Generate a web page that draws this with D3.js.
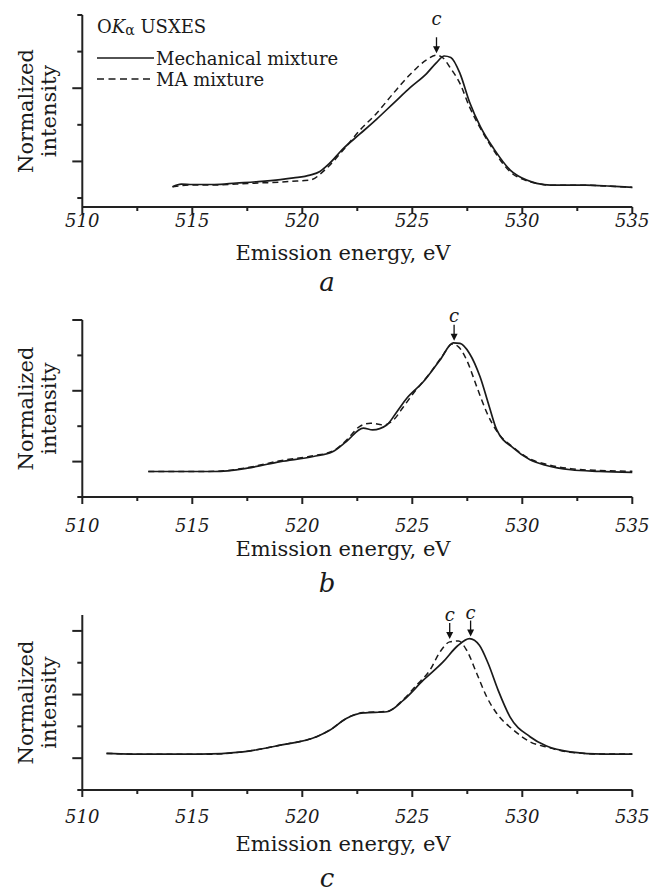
<!DOCTYPE html>
<html lang="en">
	<head>
		<meta charset="utf-8">
		<title>O K-alpha USXES</title>
		<script type="text/javascript" src="https://d3js.org/d3.v7.min.js"></script>
		<style type="text/css">
			body { margin: 0; background: #fff; }
			text { font-family: "DejaVu Serif", serif; fill: #1a1a1a; }
		</style>
	</head>
	<body>
		<script type="text/javascript">

			//Width and height
			var w = 656;
			var h = 895;

			// energy ticks (eV)
			var xTicks = [510, 515, 520, 525, 530, 535];
			var xMinor = [512.5, 517.5, 522.5, 527.5, 532.5];
			var yTicks = [0, 0.2, 0.4, 0.6, 0.8, 1.0];
			var panelLetters = ["a", "b", "c"];

			// panel a : [energy eV, normalized intensity]
			var mechA = [[514.1,0.062],[514.5,0.076],[515.0,0.074],[516.0,0.074],[517.0,0.082],[518.0,0.09],
				[519.0,0.101],[519.6,0.11],[520.35,0.125],[520.8,0.145],[521.2,0.185],[521.86,0.27],[522.62,0.35],
				[523.37,0.43],[524.13,0.516],[524.9,0.603],[525.65,0.68],[526.1,0.74],[526.45,0.776],
				[526.75,0.768],[527.17,0.68],[527.6,0.525],[528.1,0.389],[528.7,0.27],[529.45,0.153],
				[530.2,0.098],[530.65,0.08],[531.3,0.071],[532.9,0.071],[534.0,0.065],[535.0,0.058]];
			var maA = [[514.1,0.062],[515.0,0.071],[516.0,0.071],[517.0,0.076],[518.0,0.082],[519.0,0.087],
				[520.0,0.095],[520.35,0.098],[521.1,0.162],[521.86,0.262],[522.62,0.371],[523.37,0.462],
				[524.13,0.571],[524.9,0.675],[525.65,0.755],[526.1,0.78],[526.4,0.765],[526.7,0.716],
				[527.17,0.625],[527.6,0.498],[528.1,0.38],[528.7,0.26],[529.45,0.143],[530.2,0.094],
				[530.65,0.08],[531.3,0.07],[532.9,0.07],[534.0,0.064],[535.0,0.058]];

			// panel b
			var mechB = [[513.0,0.144],[514.5,0.144],[516.0,0.144],[517.5,0.163],[519.0,0.2],[520.5,0.229],
				[521.4,0.257],[522.0,0.313],[522.77,0.389],[523.2,0.379],[523.84,0.407],[524.3,0.482],
				[524.75,0.558],[525.5,0.651],[526.26,0.774],[526.86,0.871],[527.17,0.868],[527.6,0.811],
				[528.08,0.679],[528.5,0.51],[528.84,0.379],[529.6,0.276],[530.35,0.21],[531.1,0.178],
				[532.2,0.154],[533.5,0.145],[535.0,0.139]];
			var maB = [[513.0,0.144],[514.5,0.144],[516.0,0.145],[517.5,0.166],[519.0,0.205],[520.5,0.233],
				[521.4,0.26],[522.0,0.32],[522.6,0.398],[523.1,0.417],[523.7,0.407],[524.14,0.435],
				[524.6,0.51],[525.05,0.586],[525.8,0.699],[526.4,0.802],[526.8,0.864],[527.1,0.848],
				[527.47,0.774],[527.93,0.623],[528.4,0.473],[528.84,0.372],[529.6,0.28],[530.35,0.215],
				[531.1,0.185],[532.2,0.16],[533.5,0.15],[535.0,0.145]];

			// panel c
			var mechC = [[511.1,0.23],[512.2,0.226],[513.84,0.226],[515.35,0.226],[517.3,0.24],[519.0,0.282],
				[520.65,0.335],[521.26,0.377],[522.0,0.45],[522.77,0.485],[523.84,0.492],[524.6,0.565],
				[525.5,0.69],[526.4,0.805],[527.05,0.905],[527.6,0.952],[528.05,0.91],[528.45,0.795],
				[528.9,0.628],[529.44,0.46],[530.35,0.335],[531.1,0.276],[532.17,0.24],[533.7,0.226],
				[535.0,0.226]];
			var maC = [[511.1,0.23],[512.2,0.226],[513.84,0.224],[515.35,0.224],[517.3,0.24],[519.0,0.282],
				[520.65,0.335],[521.26,0.377],[522.0,0.45],[522.77,0.487],[523.84,0.494],[524.6,0.57],
				[525.2,0.66],[525.8,0.753],[526.26,0.868],[526.7,0.931],[527.1,0.937],[527.47,0.879],
				[527.93,0.732],[528.38,0.586],[528.84,0.481],[529.6,0.377],[530.35,0.303],[531.1,0.27],
				[532.17,0.238],[533.7,0.226],[535.0,0.226]];

			// peak markers "c": [energy, intensity]
			var peaksA = [[526.1, 0.78]];
			var peaksB = [[526.9, 0.871]];
			var peaksC = [[526.7, 0.937], [527.65, 0.952]];

			// layout of the three panels
			var panels = [
				{mech: mechA, ma: maA, peaks: peaksA, top: 15, bottom: 207, dom: [-0.049, 1.0], major: [0.2, 0.6],
					tickLab: 227, title: 260, letter: 291, cGap: 28},
				{mech: mechB, ma: maB, peaks: peaksB, top: 320, bottom: 497, dom: [0, 1.0], major: [0.2, 0.6, 1.0],
					tickLab: 532, title: 556, letter: 592, cGap: 19},
				{mech: mechC, ma: maC, peaks: peaksC, top: 615, bottom: 790, dom: [0, 1.1], major: [0.2, 0.6, 1.0],
					tickLab: 823, title: 851, letter: 887, cGap: 18}
			];

			var x = d3.scaleLinear()
				.domain([510, 535])
				.range([82.3, 632.3]);

			var svg = d3.select("body")
						.append("svg")
						.attr("width", w)
						.attr("height", h);

			panels.forEach(function(p, i) {

				var y = d3.scaleLinear()
					.domain(p.dom)
					.range([p.bottom, p.top]);

				var g = svg.append("g");

				var line = d3.line()
					.x(function(d) { return x(d[0]); })
					.y(function(d) { return y(d[1]); })
					.curve(d3.curveMonotoneX);

				//curves
				g.append("path")
				   .attr("d", line(p.ma))
				   .attr("fill", "none")
				   .attr("stroke", "#1a1a1a")
				   .attr("stroke-width", 1.5)
				   .attr("stroke-dasharray", "6,4");

				g.append("path")
				   .attr("d", line(p.mech))
				   .attr("fill", "none")
				   .attr("stroke", "#1a1a1a")
				   .attr("stroke-width", 1.7);

				//x axis
				g.append("line")
				   .attr("x1", x(510)).attr("x2", x(535))
				   .attr("y1", p.bottom).attr("y2", p.bottom)
				   .attr("stroke", "#222").attr("stroke-width", 2);

				g.selectAll(".xmaj")
				   .data(xTicks)
				   .enter()
				   .append("line")
				   .attr("x1", function(d) { return x(d); })
				   .attr("x2", function(d) { return x(d); })
				   .attr("y1", p.bottom).attr("y2", p.bottom + 7)
				   .attr("stroke", "#222").attr("stroke-width", 2);

				g.selectAll(".xmin")
				   .data(xMinor)
				   .enter()
				   .append("line")
				   .attr("x1", function(d) { return x(d); })
				   .attr("x2", function(d) { return x(d); })
				   .attr("y1", p.bottom).attr("y2", p.bottom + 4)
				   .attr("stroke", "#222").attr("stroke-width", 2);

				g.selectAll(".xlab")
				   .data(xTicks)
				   .enter()
				   .append("text")
				   .attr("x", function(d) { return x(d); })
				   .attr("y", p.tickLab)
				   .attr("text-anchor", "middle")
				   .style("font-size", "18px")
				   .style("font-style", "italic")
				   .text(function(d) { return d; });

				g.append("text")
				   .attr("x", 343)
				   .attr("y", p.title)
				   .attr("text-anchor", "middle")
				   .style("font-size", "21px")
				   .text("Emission energy, eV");

				g.append("text")
				   .attr("x", 327)
				   .attr("y", p.letter)
				   .attr("text-anchor", "middle")
				   .style("font-size", "26px")
				   .style("font-style", "italic")
				   .text(panelLetters[i]);

				//y axis
				g.append("line")
				   .attr("x1", x(510)).attr("x2", x(510))
				   .attr("y1", p.top).attr("y2", p.bottom)
				   .attr("stroke", "#222").attr("stroke-width", 2);

				g.selectAll(".ytick")
				   .data(yTicks)
				   .enter()
				   .append("line")
				   .attr("x1", function(d) { return x(510) - (p.major.indexOf(d) >= 0 ? 10 : 5); })
				   .attr("x2", x(510))
				   .attr("y1", function(d) { return y(d); })
				   .attr("y2", function(d) { return y(d); })
				   .attr("stroke", "#222").attr("stroke-width", 2);

				var mid = (p.top + p.bottom) / 2;
				g.append("text")
				   .attr("transform", "translate(33," + mid + ") rotate(-90)")
				   .attr("text-anchor", "middle")
				   .style("font-size", "21px")
				   .text("Normalized");
				g.append("text")
				   .attr("transform", "translate(56," + mid + ") rotate(-90)")
				   .attr("text-anchor", "middle")
				   .style("font-size", "21px")
				   .text("intensity");

				//peak arrows
				p.peaks.forEach(function(pk) {
					var px = x(pk[0]);
					var tip = y(pk[1]) - 2;
					g.append("line")
					   .attr("x1", px).attr("x2", px)
					   .attr("y1", tip - 16).attr("y2", tip - 5)
					   .attr("stroke", "#111").attr("stroke-width", 1.3);
					g.append("path")
					   .attr("d", "M" + (px - 3.5) + "," + (tip - 7) + "L" + (px + 3.5) + "," + (tip - 7) + "L" + px + "," + tip + "Z")
					   .attr("fill", "#111");
					g.append("text")
					   .attr("x", px)
					   .attr("y", tip - p.cGap)
					   .attr("text-anchor", "middle")
					   .style("font-size", "18px")
					   .style("font-style", "italic")
					   .text("c");
				});
			});

			//legend (panel a)
			var leg = svg.append("g");
			var t = leg.append("text")
			   .attr("x", 97)
			   .attr("y", 33)
			   .style("font-size", "18px");
			t.append("tspan").text("O");
			t.append("tspan").style("font-style", "italic").text("K");
			t.append("tspan").style("font-size", "14px").attr("dy", 2).text("\u03b1");
			t.append("tspan").attr("dy", -2).text(" USXES");

			leg.append("line")
			   .attr("x1", 97).attr("x2", 154)
			   .attr("y1", 58).attr("y2", 58)
			   .attr("stroke", "#1a1a1a").attr("stroke-width", 1.7);
			leg.append("text")
			   .attr("x", 156).attr("y", 65)
			   .style("font-size", "18px")
			   .text("Mechanical mixture");

			leg.append("line")
			   .attr("x1", 97).attr("x2", 154)
			   .attr("y1", 79).attr("y2", 79)
			   .attr("stroke", "#1a1a1a").attr("stroke-width", 1.5)
			   .attr("stroke-dasharray", "7,4.5");
			leg.append("text")
			   .attr("x", 156).attr("y", 86)
			   .style("font-size", "18px")
			   .text("MA mixture");

		</script>
	</body>
</html>
